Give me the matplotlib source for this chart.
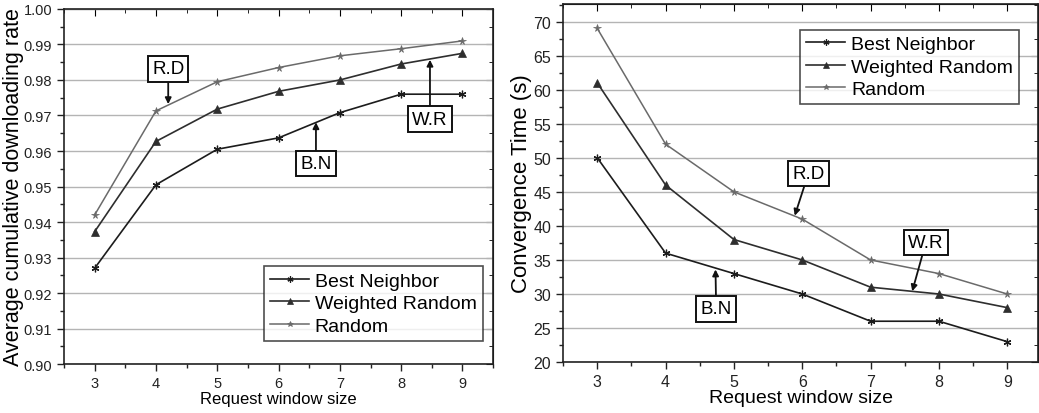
import matplotlib
matplotlib.use("Agg")
import matplotlib.pyplot as plt
from matplotlib.ticker import MultipleLocator

plt.rcParams['font.family'] = ['Liberation Sans', 'DejaVu Sans']

window = [3, 4, 5, 6, 7, 8, 9]

# left: average cumulative downloading rate
rate_best = [0.927, 0.9505, 0.9605, 0.9637, 0.9708, 0.976, 0.976]
rate_weighted = [0.9373, 0.9627, 0.9718, 0.9768, 0.980, 0.9845, 0.9875]
rate_random = [0.942, 0.9713, 0.9795, 0.9835, 0.9868, 0.9888, 0.991]

# right: convergence time (s)
conv_best = [50, 36, 33, 30, 26, 26, 23]
conv_weighted = [61, 46, 38, 35, 31, 30, 28]
conv_random = [69, 52, 45, 41, 35, 33, 30]

series_names = ['Best Neighbor', 'Weighted Random', 'Random']

styles = [
    dict(color='#1c1c1c', marker=(6, 2, 0), ms=5.5, mew=0.9, lw=1.2),
    dict(color='#2e2e2e', marker='^', ms=5.5, mew=0.5, lw=1.2),
    dict(color='#6a6a6a', marker='*', ms=5.5, mew=0.5, lw=1.1),
]


def style_axes(ax, xlim, ylim, ymajor, yminor):
    ax.set_xlim(*xlim)
    ax.set_ylim(*ylim)
    ax.xaxis.set_major_locator(MultipleLocator(1))
    ax.xaxis.set_minor_locator(MultipleLocator(0.5))
    ax.yaxis.set_major_locator(MultipleLocator(ymajor))
    ax.yaxis.set_minor_locator(MultipleLocator(yminor))
    ax.yaxis.grid(True, which='major', color='#b4b4b4', lw=1.0)
    ax.set_axisbelow(True)
    ax.tick_params(which='major', direction='out', length=5, width=1.0, colors='#222222')
    ax.tick_params(which='minor', direction='out', length=3, width=1.0, colors='#222222')
    for s in ax.spines.values():
        s.set_linewidth(1.2)
        s.set_color('#222222')
    top = ax.secondary_xaxis('top')
    top.xaxis.set_major_locator(MultipleLocator(1))
    top.xaxis.set_minor_locator(MultipleLocator(0.5))
    top.tick_params(which='major', direction='in', length=5, labeltop=False)
    top.tick_params(which='minor', direction='in', length=3)
    right = ax.secondary_yaxis('right')
    right.yaxis.set_major_locator(MultipleLocator(ymajor))
    right.yaxis.set_minor_locator(MultipleLocator(yminor))
    right.tick_params(which='major', direction='in', length=5, labelright=False)
    right.tick_params(which='minor', direction='in', length=3)


def box_note(ax, text, head, box):
    ax.annotate(text, xy=head, xytext=box, ha='center', va='center', fontsize=13.5,
                bbox=dict(boxstyle='square,pad=0.22', fc='white', ec='#111111', lw=1.4),
                arrowprops=dict(arrowstyle='-|>', color='#111111', lw=1.3,
                                mutation_scale=9, shrinkA=0, shrinkB=0))


fig = plt.figure(figsize=(10.39, 4.14), dpi=100)
ax1 = fig.add_axes([0.0616, 0.118, 0.413, 0.858])
ax2 = fig.add_axes([0.542, 0.123, 0.457, 0.865])

for vals, name, st in zip([rate_best, rate_weighted, rate_random], series_names, styles):
    ax1.plot(window, vals, label=name, **st)
for vals, name, st in zip([conv_best, conv_weighted, conv_random], series_names, styles):
    ax2.plot(window, vals, label=name, **st)

style_axes(ax1, (2.5, 9.5), (0.90, 1.00), 0.01, 0.005)
style_axes(ax2, (2.5, 9.45), (20, 72.6), 5, 2.5)

ax1.set_yticklabels([f'{v:.2f}' for v in ax1.get_yticks()])
ax1.tick_params(labelsize=10.5)
ax2.tick_params(labelsize=11.5)

ax1.set_xlabel('Request window size', fontsize=12, labelpad=1)
ax1.set_ylabel('Average cumulative downloading rate', fontsize=15.5, labelpad=0)
ax2.set_xlabel('Request window size', fontsize=14, labelpad=0)
ax2.set_ylabel('Convergence Time (s)', fontsize=16, labelpad=1)

leg_kw = dict(fontsize=14, frameon=True, fancybox=False, edgecolor='#222222',
              handlelength=2.0, borderpad=0.3, labelspacing=0.25, handletextpad=0.3,
              markerscale=0.8)
l1 = ax1.legend(loc='lower right', bbox_to_anchor=(0.998, 0.039), **leg_kw)
l2 = ax2.legend(loc='upper right', bbox_to_anchor=(0.98, 0.955), **leg_kw)
for lg in (l1, l2):
    lg.get_frame().set_linewidth(1.2)

box_note(ax1, 'R.D', (4.2, 0.9732), (4.2, 0.9831))
box_note(ax1, 'B.N', (6.61, 0.9681), (6.61, 0.9564))
box_note(ax1, 'W.R', (8.47, 0.9857), (8.47, 0.969))

box_note(ax2, 'R.D', (5.89, 41.5), (6.09, 47.7))
box_note(ax2, 'W.R', (7.61, 30.4), (7.81, 37.6))
box_note(ax2, 'B.N', (4.73, 33.6), (4.74, 27.8))

fig.savefig('out.png', dpi=100)
